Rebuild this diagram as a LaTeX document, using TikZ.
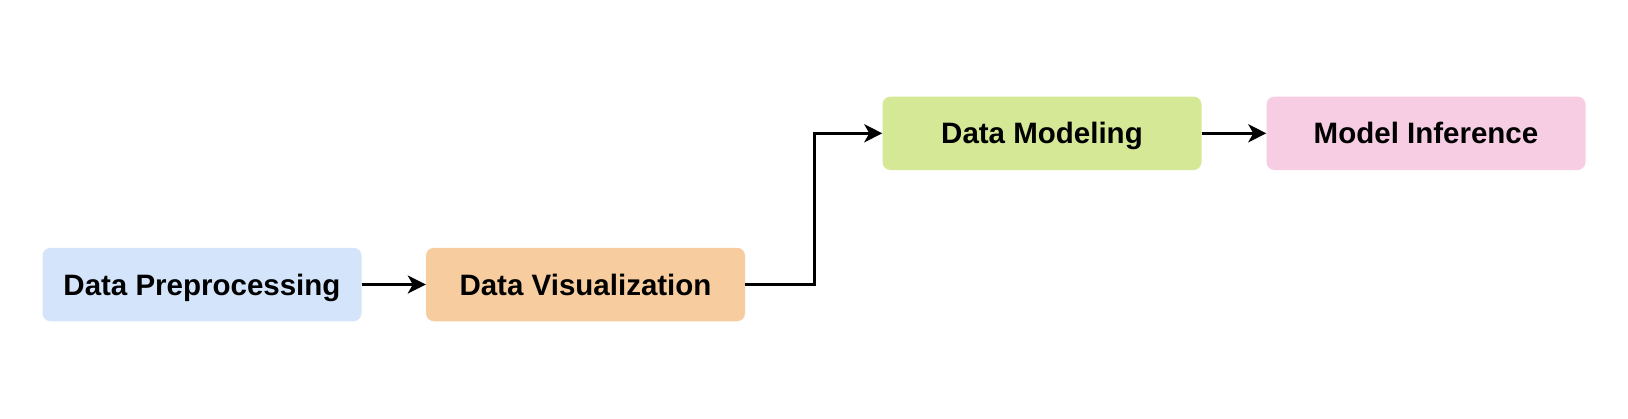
\documentclass[tikz,border=0pt]{standalone}
\usepackage{fontspec}
\setmainfont{Liberation Sans}
\usetikzlibrary{arrows.meta}
\definecolor{cblue}{HTML}{D4E5FB}
\definecolor{corange}{HTML}{F7CC9E}
\definecolor{cgreen}{HTML}{D5E896}
\definecolor{cpink}{HTML}{F7CDE4}
\begin{document}
\begin{tikzpicture}[x=1pt,y=-1pt,
  stagebox/.style={rounded corners=8pt, minimum width=319pt, minimum height=73.5pt, inner sep=0pt,
    text height=21pt, text depth=0pt,
    font=\fontsize{29.5}{32}\selectfont\bfseries, text=black},
  flow/.style={line width=3pt, -{Stealth[length=18pt,width=18pt,inset=5pt]}}]
\useasboundingbox (0,0) rectangle (1628,418);
\node[stagebox, fill=cblue] (dp) at (202,284.5) {Data Preprocessing};
\node[stagebox, fill=corange] (dv) at (585.5,284.5) {Data Visualization};
\node[stagebox, fill=cgreen] (dm) at (1042,133.3) {Data Modeling};
\node[stagebox, fill=cpink] (mi) at (1426,133.3) {Model Inference};
\draw[flow] (dp.east) -- (dv.west);
\draw[flow] (dv.east) -- (814.3,284.5) |- (dm.west);
\draw[flow] (dm.east) -- (mi.west);
\end{tikzpicture}
\end{document}
